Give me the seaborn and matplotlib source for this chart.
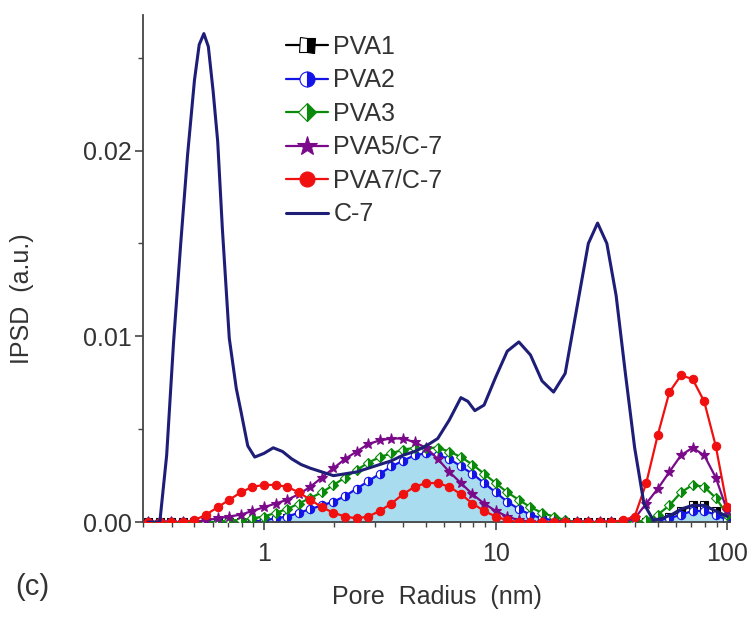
import matplotlib
matplotlib.use("Agg")
import matplotlib.pyplot as plt
import seaborn as sns
from matplotlib.ticker import FixedLocator, MultipleLocator, FuncFormatter, LogLocator, NullFormatter

# pore radius grid (nm) shared by the PVA series
radius = [0.316, 0.355, 0.398, 0.447, 0.501, 0.562, 0.631, 0.708, 0.794, 0.891,
          1.0, 1.122, 1.259, 1.413, 1.585, 1.778, 1.995, 2.239, 2.512, 2.818,
          3.162, 3.548, 3.981, 4.467, 5.012, 5.623, 6.310, 7.079, 7.943, 8.913,
          10.0, 11.22, 12.59, 14.13, 15.85, 17.78, 19.95, 22.39, 25.12, 28.18,
          31.62, 35.48, 39.81, 44.67, 50.12, 56.23, 63.10, 70.79, 79.43, 89.13, 100.0]

pva1 = [0, 0, 0, 0, 0, 0, 0, 0, 0, 0,
        0.0001, 0.0001, 0.0002, 0.0004, 0.0005, 0.0007, 0.0009, 0.0012, 0.0015, 0.0019,
        0.0022, 0.0026, 0.0029, 0.0031, 0.0032, 0.0031, 0.0029, 0.0026, 0.0022, 0.0018,
        0.0013, 0.0009, 0.0006, 0.0003, 0.0001, 0, 0, 0, 0, 0,
        0, 0, 0, 0, 0.0001, 0.0003, 0.0006, 0.0009, 0.0009, 0.0006, 0.0002]

pva2 = [0, 0, 0, 0, 0, 0, 0, 0, 0, 0,
        0.0001, 0.0002, 0.0003, 0.0005, 0.0007, 0.0009, 0.0011, 0.0014, 0.0018, 0.0022,
        0.0026, 0.0030, 0.0033, 0.0036, 0.0037, 0.0036, 0.0034, 0.0030, 0.0026, 0.0021,
        0.0016, 0.0011, 0.0007, 0.0004, 0.0002, 0.0001, 0, 0, 0, 0,
        0, 0, 0, 0, 0.0001, 0.0002, 0.0004, 0.0006, 0.0006, 0.0004, 0.0001]

pva3 = [0, 0, 0, 0, 0, 0, 0, 0.0001, 0.0001, 0.0002,
        0.0003, 0.0005, 0.0007, 0.0010, 0.0013, 0.0016, 0.0020, 0.0024, 0.0028, 0.0032,
        0.0035, 0.0037, 0.0039, 0.0040, 0.0040, 0.0040, 0.0038, 0.0035, 0.0031, 0.0026,
        0.0021, 0.0016, 0.0012, 0.0008, 0.0005, 0.0003, 0.0001, 0, 0, 0,
        0, 0, 0, 0.0001, 0.0004, 0.0009, 0.0016, 0.0020, 0.0019, 0.0013, 0.0004]

pva5 = [0, 0, 0, 0, 0, 0.0001, 0.0002, 0.0003, 0.0004, 0.0006,
        0.0008, 0.0010, 0.0012, 0.0015, 0.0019, 0.0024, 0.0029, 0.0034, 0.0038, 0.0042,
        0.0044, 0.0045, 0.0045, 0.0043, 0.0040, 0.0034, 0.0027, 0.0021, 0.0015, 0.0010,
        0.0006, 0.0003, 0.0001, 0, 0, 0, 0, 0, 0, 0,
        0, 0, 0.0002, 0.0010, 0.0018, 0.0027, 0.0036, 0.0040, 0.0036, 0.0024, 0.0006]

pva7 = [0, 0, 0, 0, 0.0001, 0.0004, 0.0008, 0.0012, 0.0016, 0.0019,
        0.0020, 0.0020, 0.0019, 0.0016, 0.0012, 0.0008, 0.0005, 0.0003, 0.0002, 0.0003,
        0.0006, 0.0010, 0.0015, 0.0019, 0.0021, 0.0021, 0.0019, 0.0015, 0.0010, 0.0006,
        0.0003, 0.0001, 0, 0, 0, 0, 0, 0, 0, 0,
        0, 0.0001, 0.0003, 0.0021, 0.0047, 0.0070, 0.0079, 0.0077, 0.0065, 0.0041, 0.0008]

# C-7 has a finer grid around its sharp first peak
c7_radius = [0.316, 0.355, 0.380, 0.407, 0.437, 0.468, 0.501, 0.525, 0.550, 0.575,
             0.603, 0.631, 0.661, 0.708, 0.759, 0.794, 0.851, 0.912, 1.0, 1.096,
             1.202, 1.318, 1.445, 1.585, 1.778, 1.995, 2.239, 2.512, 2.818, 3.162,
             3.548, 3.981, 4.467, 5.012, 5.623, 6.310, 7.079, 7.586, 8.128, 8.913,
             10.0, 11.22, 12.59, 14.13, 15.85, 17.78, 19.95, 22.39, 25.12, 27.54,
             30.20, 33.11, 36.31, 39.81, 43.65, 47.86, 52.48, 57.54, 63.10, 70.79,
             79.43, 89.13, 100.0]
c7 = [0, 0, 0.0036, 0.0097, 0.0150, 0.0198, 0.0238, 0.0257, 0.0263, 0.0256,
      0.0232, 0.0205, 0.0158, 0.0099, 0.0072, 0.0060, 0.0041, 0.0035, 0.0037, 0.0040,
      0.0038, 0.0034, 0.0031, 0.0029, 0.0027, 0.0025, 0.0026, 0.0027, 0.0029, 0.0031,
      0.0033, 0.0036, 0.0038, 0.0041, 0.0045, 0.0055, 0.0067, 0.0065, 0.0060, 0.0063,
      0.0078, 0.0092, 0.0097, 0.0090, 0.0076, 0.0070, 0.0080, 0.0115, 0.0150, 0.0161,
      0.0150, 0.0122, 0.0080, 0.0040, 0.0010, 0.0001, 0.0002, 0.0004, 0.0007, 0.0009,
      0.0009, 0.0006, 0.0003]

sns.set_theme(style="ticks")
plt.rcParams["font.family"] = ["Liberation Sans", "DejaVu Sans"]
txt = "#333333"

fig = plt.figure(figsize=(7.56, 6.26), dpi=100)
ax = fig.add_axes([0.189, 0.166, 0.777, 0.81])
ax.set_xscale("log")

# light blue area under PVA2; PVA1 sits underneath it
ax.fill_between(radius, pva2, 0, color="#a9dcee", lw=0, zorder=1.5)

series = [
    ("PVA1", pva1, "black", "s", dict(fillstyle="right", markerfacecoloralt="white"), 6, 1),
    ("PVA2", pva2, "#1414e6", "o", dict(fillstyle="right", markerfacecoloralt="white"), 6, 2),
    ("PVA3", pva3, "#0a8a0a", "D", dict(fillstyle="right", markerfacecoloralt="white"), 5, 3),
    ("PVA5/C-7", pva5, "#7a0a8a", "*", dict(), 8, 4),
    ("PVA7/C-7", pva7, "#f01010", "o", dict(), 6, 5),
]
for name, vals, col, mk, extra, ms, z in series:
    sns.lineplot(x=radius, y=vals, ax=ax, color=col, lw=1.6, marker=mk, markersize=ms,
                 markerfacecolor=col, markeredgecolor=col, markeredgewidth=0.8,
                 label=name, estimator=None, sort=False, zorder=z, **extra)

sns.lineplot(x=c7_radius, y=c7, ax=ax, color="#1e1e78", lw=2.2, label="C-7",
             estimator=None, sort=False, zorder=10)

ax.set_xlim(0.3, 103)
ax.set_ylim(0, 0.0273)
ax.xaxis.set_major_locator(FixedLocator([1, 10, 100]))
ax.xaxis.set_major_formatter(FuncFormatter(lambda v, p: f"{v:g}"))
ax.xaxis.set_minor_locator(LogLocator(base=10, subs=range(2, 10), numticks=20))
ax.xaxis.set_minor_formatter(NullFormatter())
ax.yaxis.set_major_locator(MultipleLocator(0.01))
ax.yaxis.set_minor_locator(MultipleLocator(0.005))
ax.yaxis.set_major_formatter(FuncFormatter(lambda v, p: f"{v:.2f}"))

for s in ("top", "right"):
    ax.spines[s].set_visible(False)
for s in ("left", "bottom"):
    ax.spines[s].set_color("#444444")
    ax.spines[s].set_linewidth(1.3)
ax.tick_params(axis="both", which="major", direction="out", length=6, width=1.2,
               colors="#444444", labelcolor=txt, labelsize=18, pad=2)
ax.tick_params(axis="x", which="major", pad=8)
ax.tick_params(axis="both", which="minor", direction="out", length=3.5, width=1.0,
               colors="#444444")

ax.set_xlabel("Pore  Radius  (nm)", fontsize=18, color=txt, labelpad=14)
ax.set_ylabel("IPSD  (a.u.)", fontsize=18, color=txt)
ax.yaxis.set_label_coords(-0.185, 0.44)

leg = ax.legend(loc="upper left", bbox_to_anchor=(0.205, 1.005), frameon=False,
                fontsize=18, handlelength=1.7, handletextpad=0.2, labelspacing=0.38,
                markerscale=1.8)
for t in leg.get_texts():
    t.set_color(txt)

fig.text(0.02, 0.05, "(c)", fontsize=21, color=txt)

fig.savefig("out.png", dpi=100, facecolor="white")
